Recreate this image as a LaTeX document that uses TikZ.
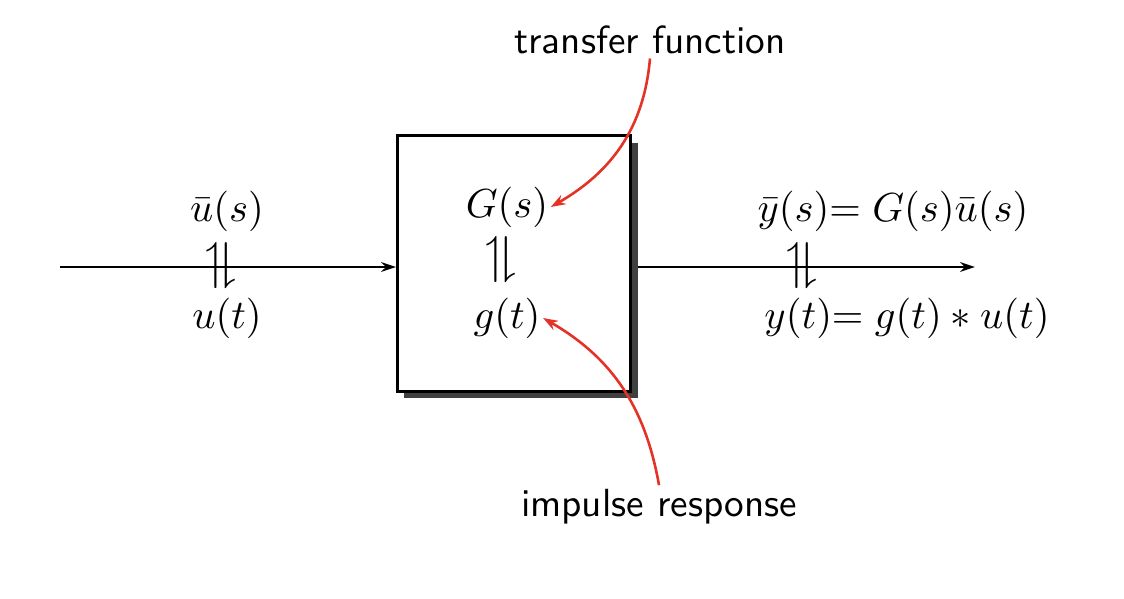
\documentclass[tikz,border=0pt]{standalone}
\usepackage{amssymb}
\usepackage{graphicx}
\usetikzlibrary{arrows.meta,shadows,backgrounds}
\definecolor{annred}{RGB}{228,50,38}
\newcommand{\updown}{\scalebox{1.45}[1.4]{\rotatebox{90}{$\rightleftharpoons$}}}
\tikzset{
  sig/.style={draw=black, line width=0.6pt, -{Stealth[length=4pt,width=2.6pt]}},
  ann/.style={draw=annred, line width=0.7pt, -{Stealth[length=4pt,width=2.8pt]}},
  lbl/.style={inner sep=0.5pt, font=\fontsize{10.5}{12}\selectfont},
  sym/.style={inner sep=0pt},
  txt/.style={inner sep=1pt, font=\sffamily\fontsize{10.6}{13}\selectfont},
  block/.style={draw=black, line width=0.7pt, fill=white, minimum width=63pt, minimum height=69pt,
    drop shadow={shadow xshift=1.9pt, shadow yshift=-1.9pt, fill=black!75, opacity=1}}
}
\begin{document}
\begin{tikzpicture}[x=0.27pt,y=-0.27pt]
\useasboundingbox (0,0) rectangle (1124,598);
\node[block] (box) at (514,263.5) {};
\coordinate (in) at (60,267);
\coordinate (out) at (975,267);
\begin{scope}[on background layer]
\draw[sig] (in) -- (in -| box.west);
\draw[sig] (in -| box.east) -- (out);
\end{scope}
\node[lbl] (us) at (227,211) {$\bar u(s)$};
\node[lbl] (ut) at (227,318) {$u(t)$};
\node[sym] (s1) at (221,266) {\updown};
\node[lbl] (Gs) at (507,207) {$G(s)$};
\node[lbl] (gt) at (507,318) {$g(t)$};
\node[sym] (s2) at (501,260) {\updown};
\node[lbl] (ys) at (893,211) {$\bar y(s){=}\;G(s)\bar u(s)$};
\node[lbl] (yt) at (907,318) {$y(t){=}\;g(t)*u(t)$};
\node[sym] (s3) at (802,266) {\updown};
\node[txt] (tf) at (650,40) {transfer function};
\node[txt] (ir) at (659,507) {impulse response};
\draw[ann] (tf.south) to[out=-95, in=30] (Gs.east);
\draw[ann] (ir.north) to[out=100, in=-30] (gt.east);
\end{tikzpicture}
\end{document}
